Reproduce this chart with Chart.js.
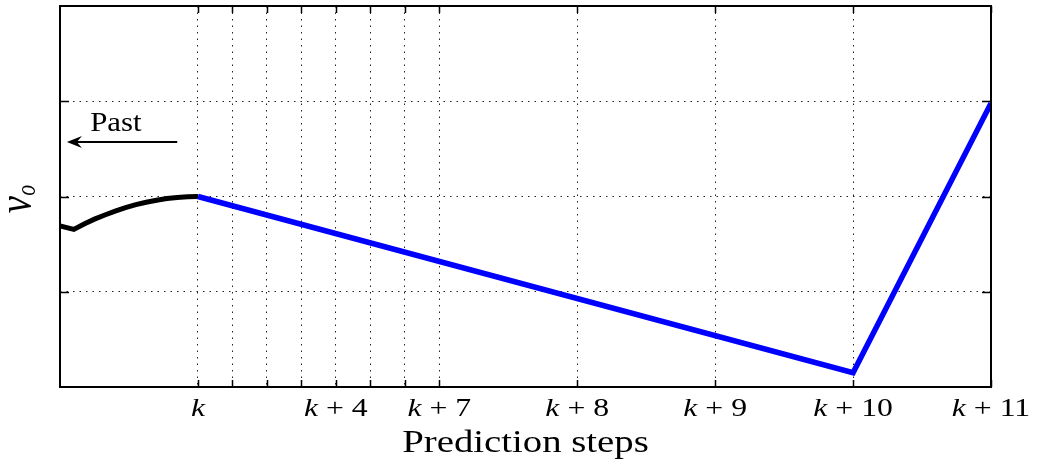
<!DOCTYPE html>
<html>
<head>
<meta charset="utf-8">
<script src="https://cdn.jsdelivr.net/npm/chart.js@4.4.0/dist/chart.umd.min.js"></script>
<style>
  html, body { margin: 0; padding: 0; background: #fff; }
  #wrap { width: 1040px; height: 469px; }
</style>
</head>
<body>
<div id="wrap"><canvas id="grafico"></canvas></div>
<script>
// passos de predicao (posicao no eixo x) e seus rotulos
const passos  = [0, 1, 2, 3, 4, 5, 6, 7, 11, 15, 19, 23];
const rotulos = ['k', '', '', '', 'k+4', '', '', 'k+7', 'k+8', 'k+9', 'k+10', 'k+11'];

// trecho passado (preto)
const passadoX = [-4, -3.6, -3.3, -3.0, -2.7, -2.4, -2.1, -1.8, -1.5, -1.2, -0.9, -0.6, -0.3, 0];
const passadoY = [1.69, 1.655, 1.712, 1.762, 1.806, 1.847, 1.883, 1.914, 1.94, 1.961, 1.978, 1.99, 1.997, 2.0];

// trecho previsto (azul)
const previsaoX = [0, 19, 23];
const previsaoY = [2.0, 0.15, 2.98];

// linhas de grade em y (sem rotulos)
const gradeY = [1, 2, 3];

const serif = "'Liberation Serif', 'Times New Roman', serif";
const ESC = 1.27; // texto um pouco mais largo

function pontos(xs, ys) {
    return xs.map((x, i) => ({ x: x, y: ys[i] }));
}

// escreve partes com fontes diferentes, centralizado em x
function texto(ctx, partes, x, y, escala) {
    let larg = 0;
    partes.forEach(p => { ctx.font = p[1]; larg += ctx.measureText(p[0]).width; });
    ctx.save();
    ctx.translate(x, y);
    ctx.scale(escala, 1);
    let cx = -larg / 2;
    partes.forEach(p => {
        ctx.font = p[1];
        ctx.fillText(p[0], cx, p[2] || 0);
        cx += ctx.measureText(p[0]).width;
    });
    ctx.restore();
}

const moldura = {
    id: 'moldura',
    afterDraw(chart) {
        const ctx = chart.ctx;
        const a = chart.chartArea;
        const sx = chart.scales.x, sy = chart.scales.y;
        ctx.save();
        ctx.strokeStyle = '#000';
        ctx.fillStyle = '#000';

        // marcas internas
        ctx.lineWidth = 1.5;
        ctx.beginPath();
        passos.forEach(v => {
            const px = Math.round(sx.getPixelForValue(v)) + 0.5;
            ctx.moveTo(px, a.bottom); ctx.lineTo(px, a.bottom - 7);
            ctx.moveTo(px, a.top); ctx.lineTo(px, a.top + 7);
        });
        gradeY.forEach(v => {
            const py = Math.round(sy.getPixelForValue(v)) + 0.5;
            ctx.moveTo(a.left, py); ctx.lineTo(a.left + 9, py);
            ctx.moveTo(a.right, py); ctx.lineTo(a.right - 9, py);
        });
        ctx.stroke();

        // caixa
        ctx.lineWidth = 2;
        ctx.strokeRect(a.left, a.top, a.right - a.left, a.bottom - a.top);

        // rotulos do eixo x
        ctx.textBaseline = 'alphabetic';
        const fIt = 'italic 25px ' + serif;
        const fRm = '25px ' + serif;
        passos.forEach((v, i) => {
            const r = rotulos[i];
            if (!r) return;
            const px = sx.getPixelForValue(v);
            const p = r.split('+');
            const partes = [[p[0], fIt]];
            if (p.length > 1) partes.push([' + ' + p[1], fRm]);
            texto(ctx, partes, px, 416, ESC);
        });

        // titulo do eixo x
        texto(ctx, [['Prediction steps', '31px ' + serif]], (a.left + a.right) / 2, 452, 1.25);

        // titulo do eixo y: v_o
        ctx.save();
        ctx.translate(31, 199);
        ctx.scale(ESC, 1);
        ctx.rotate(-Math.PI / 2);
        texto(ctx, [['v', 'italic 39px ' + serif], ['o', 'italic 22px ' + serif, 3]], 0, 0, 1);
        ctx.restore();

        // seta "Past"
        const setaY = Math.round(sy.getPixelForValue(2.575));
        const x0 = sx.getPixelForValue(-0.6), x1 = sx.getPixelForValue(-3.8);
        ctx.lineWidth = 2;
        ctx.beginPath();
        ctx.moveTo(x0, setaY); ctx.lineTo(x1 + 8, setaY);
        ctx.stroke();
        ctx.beginPath();
        ctx.moveTo(x1, setaY);
        ctx.lineTo(x1 + 15, setaY - 6);
        ctx.lineTo(x1 + 10, setaY);
        ctx.lineTo(x1 + 15, setaY + 6);
        ctx.closePath();
        ctx.fill();
        texto(ctx, [['Past', '28px ' + serif]], sx.getPixelForValue(-2.38), sy.getPixelForValue(2.69), 1.1);

        ctx.restore();
    }
};

const grade = {
    color: '#222',
    lineWidth: 1,
    drawTicks: false
};

new Chart(document.getElementById('grafico'), {
    type: 'line',
    data: {
        datasets: [{
            label: 'previsao',
            data: pontos(previsaoX, previsaoY),
            borderColor: '#0000ff',
            borderWidth: 5.5,
            borderJoinStyle: 'miter',
            pointRadius: 0,
            tension: 0,
            order: 0
        }, {
            label: 'passado',
            data: pontos(passadoX, passadoY),
            borderColor: '#000',
            borderWidth: 5,
            borderJoinStyle: 'miter',
            pointRadius: 0,
            tension: 0,
            order: 1
        }]
    },
    options: {
        responsive: true,
        maintainAspectRatio: false,
        animation: false,
        events: [],
        layout: { padding: { left: 60, right: 49, top: 6, bottom: 82 } },
        plugins: { legend: { display: false }, tooltip: { enabled: false } },
        scales: {
            x: {
                type: 'linear',
                min: -4,
                max: 23,
                afterBuildTicks: s => { s.ticks = passos.map(v => ({ value: v })); },
                afterFit: s => { s.height = 0; },
                ticks: { display: false },
                grid: grade,
                border: { display: false, dash: [1.5, 5] }
            },
            y: {
                type: 'linear',
                min: 0,
                max: 4,
                afterBuildTicks: s => { s.ticks = gradeY.map(v => ({ value: v })); },
                afterFit: s => { s.width = 0; },
                ticks: { display: false },
                grid: grade,
                border: { display: false, dash: [1.5, 5] }
            }
        }
    },
    plugins: [moldura]
});
</script>
</body>
</html>
